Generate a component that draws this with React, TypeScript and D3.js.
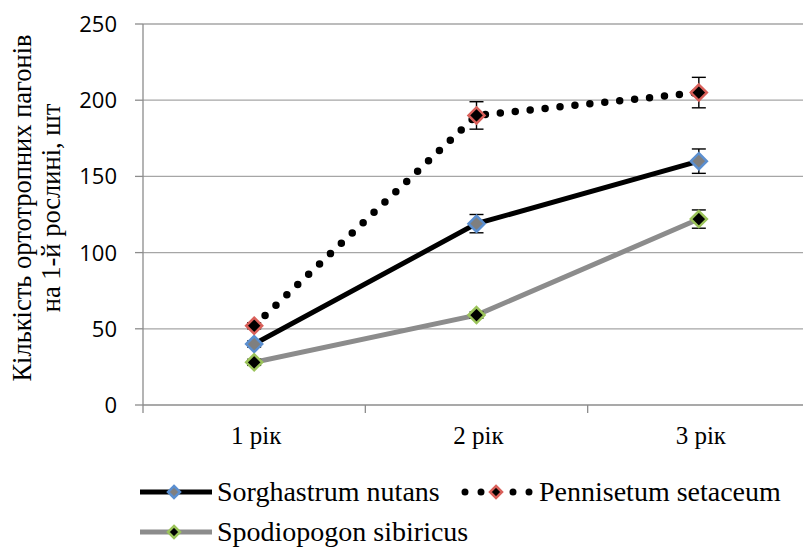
import React from 'react';
import * as d3 from 'd3';

const categories = ['1 рік', '2 рік', '3 рік'];
const sorghastrum = [40, 119, 160];
const sorghastrumErr = [2, 6, 8];
const pennisetum = [52, 190, 205];
const pennisetumErr = [2, 9, 10];
const spodiopogon = [28, 59, 122];
const spodiopogonErr = [2, 2, 6];
const yTicks = [0, 50, 100, 150, 200, 250];

const series = [
  { name: 'Sorghastrum nutans', values: sorghastrum, err: sorghastrumErr, line: '#000000', dash: null, fill: '#7f7f7f', edge: '#5b8fd0' },
  { name: 'Pennisetum setaceum', values: pennisetum, err: pennisetumErr, line: '#000000', dash: '0 15', fill: '#000000', edge: '#d9605a' },
  { name: 'Spodiopogon sibiricus', values: spodiopogon, err: spodiopogonErr, line: '#8c8c8c', dash: null, fill: '#000000', edge: '#9bc35a' },
];

const W = 803;
const H = 549;
const left = 143;
const right = 810;
const top = 24;
const bottom = 405;
const SERIF = 'Liberation Serif, Times New Roman, serif';

function Diamond({ x, y, r, fill, edge }: { x: number; y: number; r: number; fill: string; edge: string }) {
  const d = `M${x},${y - r}L${x + r},${y}L${x},${y + r}L${x - r},${y}Z`;
  return <path d={d} fill={fill} stroke={edge} strokeWidth={2.5} />;
}

export default function App() {
  const x = d3.scaleBand<string>().domain(categories).range([left, right]);
  const y = d3.scaleLinear().domain([0, 250]).range([bottom, top]);
  const cx = (c: string) => (x(c) as number) + x.bandwidth() / 2;
  const line = d3.line<number>().x((_, i) => cx(categories[i])).y((v) => y(v));

  return (
    <svg width={W} height={H} style={{ position: 'absolute', left: 0, top: 0, background: '#fff' }}>
      <rect width={W} height={H} fill="#fff" />
      {yTicks.map((t) => (
        <g key={t}>
          {t > 0 && <line x1={left} x2={right} y1={y(t)} y2={y(t)} stroke="#a6a6a6" strokeWidth={1.3} />}
          <line x1={left - 8} x2={left} y1={y(t)} y2={y(t)} stroke="#8c8c8c" strokeWidth={1.3} />
          <text x={117} y={y(t) + 8} textAnchor="end" style={{ fontFamily: 'Open Sans, sans-serif', fontSize: 22 }} fill="#000">
            {t}
          </text>
        </g>
      ))}
      <line x1={left} x2={left} y1={top} y2={bottom + 8} stroke="#8c8c8c" strokeWidth={1.3} />
      <line x1={left} x2={right} y1={bottom} y2={bottom} stroke="#8c8c8c" strokeWidth={1.3} />
      {categories.slice(1).map((c) => (
        <line key={c} x1={x(c)} x2={x(c)} y1={bottom} y2={bottom + 8} stroke="#8c8c8c" strokeWidth={1.3} />
      ))}
      {categories.map((c) => (
        <text key={c} x={cx(c) + 2} y={444} textAnchor="middle" style={{ fontFamily: SERIF, fontSize: 25 }} fill="#000">
          {c}
        </text>
      ))}
      <g transform="translate(31,208) rotate(-90)" style={{ fontFamily: SERIF, fontSize: 26.5 }} fill="#000" textAnchor="middle">
        <text x={0} y={0}>Кількість ортотропних пагонів</text>
        <text x={0} y={29}>на 1-й рослині, шт</text>
      </g>

      {series.map((s) => (
        <path
          key={s.name}
          d={line(s.values) as string}
          fill="none"
          stroke={s.line}
          strokeWidth={s.dash ? 7.5 : 5}
          strokeDasharray={s.dash ?? undefined}
          strokeLinecap={s.dash ? 'round' : 'butt'}
        />
      ))}
      {series.map((s) =>
        s.values.map((v, i) => {
          const px = cx(categories[i]);
          const y1 = y(v + s.err[i]);
          const y2 = y(v - s.err[i]);
          return (
            <g key={s.name + i} stroke="#000" strokeWidth={1.4}>
              <line x1={px} x2={px} y1={y1} y2={y2} />
              <line x1={px - 7} x2={px + 7} y1={y1} y2={y1} />
              <line x1={px - 7} x2={px + 7} y1={y2} y2={y2} />
            </g>
          );
        })
      )}
      {series.map((s) =>
        s.values.map((v, i) => (
          <Diamond key={s.name + 'm' + i} x={cx(categories[i])} y={y(v)} r={8} fill={s.fill} edge={s.edge} />
        ))
      )}

      {/* legend */}
      {series.map((s, i) => {
        const lx = i === 1 ? 462 : 140;
        const ly = i === 2 ? 532 : 492;
        return (
          <g key={s.name + 'leg'}>
            <line
              x1={lx + (s.dash ? 3 : 0)}
              x2={lx + 72}
              y1={ly}
              y2={ly}
              stroke={s.line}
              strokeWidth={s.dash ? 7 : 5}
              strokeDasharray={s.dash ? '0 16' : undefined}
              strokeLinecap={s.dash ? 'round' : 'butt'}
            />
            <Diamond x={lx + 34} y={ly} r={6} fill={s.fill} edge={s.edge} />
            <text x={lx + 77} y={ly + 9} style={{ fontFamily: SERIF, fontSize: 28 }} fill="#000">
              {s.name}
            </text>
          </g>
        );
      })}
    </svg>
  );
}
